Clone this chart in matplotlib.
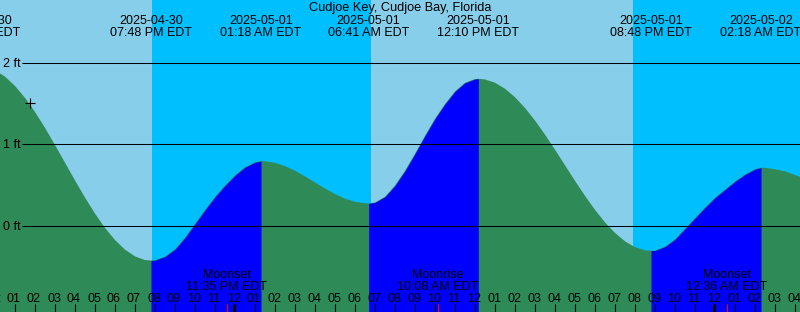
# Tide graph for Cudjoe Key, Cudjoe Bay, Florida (XTide style)

# Import libraries
import numpy as np
import matplotlib
matplotlib.use("Agg")
import matplotlib.pyplot as plt

plt.rcParams["font.family"] = ["Liberation Sans", "DejaVu Sans"]

# Data
# Hours are counted from 2025-04-30 00:00 EDT, heights in feet (read off the chart,
# every half hour plus the high / low points)
hours = [11.0, 11.25, 11.5, 12.0, 12.5, 13.0, 13.5, 14.0, 14.5, 15.0, 15.5,
         16.0, 16.5, 17.0, 17.5, 18.0, 18.5, 19.0, 19.5, 19.8,
         20.0, 20.5, 21.0, 21.5, 22.0, 22.5, 23.0, 23.5, 24.0, 24.5, 25.0, 25.3,
         25.5, 26.0, 26.5, 27.0, 27.5, 28.0, 28.5, 29.0, 29.5, 30.0, 30.5, 30.683,
         31.0, 31.5, 32.0, 32.5, 33.0, 33.5, 34.0, 34.5, 35.0, 35.5, 36.0, 36.167,
         36.5, 37.0, 37.5, 38.0, 38.5, 39.0, 39.5, 40.0, 40.5, 41.0, 41.5,
         42.0, 42.5, 43.0, 43.5, 44.0, 44.5, 44.8,
         45.0, 45.5, 46.0, 46.5, 47.0, 47.5, 48.0, 48.5, 49.0, 49.5, 50.0, 50.3,
         50.5, 51.0, 51.5, 52.0, 52.5, 53.0]
heights = [1.945, 1.95, 1.945, 1.905, 1.827, 1.712, 1.566, 1.393, 1.198, 0.988, 0.771,
           0.553, 0.343, 0.146, -0.030, -0.178, -0.296, -0.379, -0.424, -0.43,
           -0.426, -0.382, -0.292, -0.15, 0.02, 0.19, 0.35, 0.49, 0.615, 0.715, 0.775, 0.79,
           0.788, 0.769, 0.729, 0.672, 0.603, 0.528, 0.454, 0.386, 0.329, 0.291, 0.272, 0.27,
           0.283, 0.352, 0.49, 0.67, 0.88, 1.10, 1.31, 1.49, 1.645, 1.75, 1.797, 1.80,
           1.792, 1.752, 1.678, 1.574, 1.442, 1.288, 1.115, 0.930, 0.739, 0.548, 0.364,
           0.192, 0.038, -0.091, -0.194, -0.266, -0.305, -0.31,
           -0.307, -0.26, -0.17, -0.04, 0.09, 0.22, 0.34, 0.44, 0.54, 0.625, 0.69, 0.71,
           0.708, 0.69, 0.665, 0.62, 0.575, 0.52]

# High / low tide events shown along the top
event_hours = [11.25, 19.8, 25.3, 30.683, 36.167, 44.8, 50.3]
event_dates = ["2025-04-30", "2025-04-30", "2025-05-01", "2025-05-01",
               "2025-05-01", "2025-05-01", "2025-05-02"]
event_times = ["11:15 AM EDT", "07:48 PM EDT", "01:18 AM EDT", "06:41 AM EDT",
               "12:10 PM EDT", "08:48 PM EDT", "02:18 AM EDT"]

# Moon events shown along the bottom
moon_hours = [23.583, 34.133, 48.6]
moon_names = ["Moonset", "Moonrise", "Moonset"]
moon_times = ["11:35 PM EDT", "10:08 AM EDT", "12:36 AM EDT"]

# Sunset / sunrise boundaries (sunset Apr 30, sunrise May 1, sunset May 1)
sun_hours = [19.85, 30.8, 43.9]

# Current time marker
now_hour = 13.75
now_height = 1.50

levels = [0, 1, 2]
level_labels = ["0 ft", "1 ft", "2 ft"]

title = "Cudjoe Key, Cudjoe Bay, Florida"

# Colours
day_color = "#87CEEB"
night_color = "#00BFFF"
flood_color = "#0000FF"
ebb_color = "#2E8B57"

# Figure layout (800 x 312 px), 20 px per hour, 81.5 px per foot
W, H = 800, 312
x_left = 12.25
x_right = x_left + W / 20
y_top = 225.5 / 81.5
y_bottom = y_top - H / 81.5


def fy(py):
    """Pixel row (from top) to axes fraction."""
    return 1 - py / H


fig = plt.figure(figsize=(W / 100, H / 100), dpi=100)
ax = fig.add_axes([0, 0, 1, 1])
ax.set_xlim(x_left, x_right)
ax.set_ylim(y_bottom, y_top)
ax.axis("off")
xt = ax.get_xaxis_transform()

# Day / night background
edges = [x_left - 1] + sun_hours + [x_right + 1]
for i in range(len(edges) - 1):
    color = day_color if i % 2 == 0 else night_color
    ax.axvspan(edges[i], edges[i + 1], color=color, lw=0, zorder=0)

# Tide curve: ebb everywhere, then flood over the rising parts
t = np.array(hours)
h = np.array(heights)
ax.fill_between(t, h, y_bottom, color=ebb_color, lw=0, zorder=1)
rising = np.diff(h) > 0
i = 0
while i < len(rising):
    if rising[i]:
        j = i
        while j < len(rising) and rising[j]:
            j += 1
        ax.fill_between(t[i:j + 1], h[i:j + 1], y_bottom,
                        color=flood_color, lw=0, zorder=2)
        i = j
    else:
        i += 1

# Height lines and labels
ax.hlines(levels, x_left + 22 / 20, x_right, color="black", lw=0.75, zorder=3)
for lev, lab in zip(levels, level_labels):
    ax.text(2.7 / W, fy(225.5 - 81.5 * lev + 4.5), lab, transform=ax.transAxes,
            ha="left", va="baseline", fontsize=9, zorder=4)

ax.plot(now_hour, now_height, marker="+", color="black", ms=6.5, mew=0.8, zorder=4)

# Title and tide event labels
ax.text(400.5 / W, fy(10.8), title, transform=ax.transAxes,
        ha="center", va="baseline", fontsize=9.2, zorder=4)
for eh, ed, et in zip(event_hours, event_dates, event_times):
    ax.text(eh, fy(24), ed, transform=xt, ha="center", va="baseline", fontsize=9, zorder=4)
    ax.text(eh, fy(36), et, transform=xt, ha="center", va="baseline", fontsize=9, zorder=4)

# Hour ticks and labels
tick_top = 8.5 / H
for hr in range(int(np.floor(x_left)), int(np.ceil(x_right)) + 1):
    label = "%02d" % ((hr - 1) % 12 + 1)
    ax.text(hr - 0.05, fy(301.5), label, transform=xt,
            ha="center", va="baseline", fontsize=9, zorder=4)
    if hr % 24 == 0:
        ax.vlines(hr - 0.05, 0, tick_top, transform=xt, color="black", lw=2.1, zorder=4)
    else:
        ax.vlines(hr, 0, tick_top, transform=xt, color="black", lw=0.8, zorder=4)

# Moon events
for mh, mn, mt in zip(moon_hours, moon_names, moon_times):
    ax.vlines(mh, 0, tick_top, transform=xt, color="red", lw=0.8, zorder=5)
    ax.text(mh, fy(278.5), mn, transform=xt, ha="center", va="baseline", fontsize=9, zorder=4)
    ax.text(mh, fy(290), mt, transform=xt, ha="center", va="baseline", fontsize=9, zorder=4)

fig.savefig("out.png", dpi=100)
